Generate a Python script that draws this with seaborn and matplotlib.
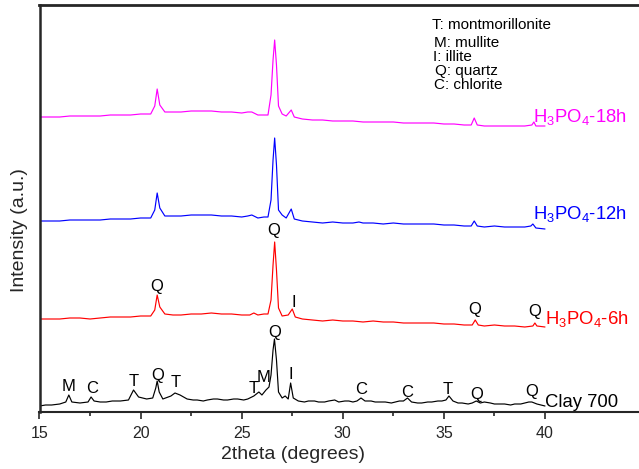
import matplotlib
matplotlib.use("Agg")
import matplotlib.pyplot as plt
import seaborn as sns
import pandas as pd
from matplotlib.ticker import FixedLocator

# ---------------- data ----------------
clay_x = [15.0, 15.3, 15.6, 16.0, 16.3, 16.45, 16.6, 17.0, 17.4, 17.55, 17.7, 18.0, 18.3, 18.6,
          19.0, 19.4, 19.65, 19.9, 20.3, 20.6, 20.75, 20.82, 20.92, 21.1, 21.5, 21.7, 21.95,
          22.3, 22.6, 22.8, 23.1, 23.3, 23.6, 23.8, 24.1, 24.3, 24.6, 24.8, 25.1, 25.3, 25.6,
          25.85, 26.0, 26.2, 26.35, 26.45, 26.55, 26.62, 26.72, 26.82, 27.0, 27.15, 27.3,
          27.42, 27.55, 27.8, 28.1, 28.3, 28.6, 28.8, 29.1, 29.3, 29.6, 29.8, 30.1, 30.3, 30.5,
          30.7, 30.9, 31.1, 31.4, 31.6, 31.9, 32.1, 32.4, 32.6, 32.8, 33.0, 33.2, 33.4, 33.7,
          33.9, 34.2, 34.4, 34.7, 34.9, 35.1, 35.25, 35.45, 35.7, 35.9, 36.2, 36.4, 36.6,
          36.8, 37.0, 37.3, 37.5, 37.8, 38.0, 38.3, 38.5, 38.8, 39.0, 39.2, 39.35, 39.6, 40.0]
clay_y = [6, 7, 7, 8, 10, 17, 10, 9, 10, 15, 11, 10, 10, 11,
          11, 12, 22, 15, 13, 14, 24, 31, 20, 13, 16, 19, 17,
          13, 12, 12, 11, 12, 13, 13, 12, 12, 13, 13, 12, 13, 16,
          20, 17, 22, 25, 37, 62, 73, 52, 20, 14, 16, 13,
          29, 14, 11, 10, 11, 11, 10, 10, 11, 12, 10, 11, 11, 10,
          11, 14, 11, 11, 10, 10, 10, 9, 10, 11, 11, 14, 10, 9,
          9, 10, 10, 11, 11, 12, 16, 11, 9, 9, 8, 9, 11,
          9, 10, 9, 8, 8, 8, 7, 8, 8, 9, 10, 10, 8, 6]

h6_x = [15.0, 15.5, 16.0, 16.5, 17.0, 17.5, 18.0, 18.5, 19.0, 19.5, 20.0, 20.5, 20.7, 20.82,
        20.95, 21.2, 21.6, 22.0, 22.5, 23.0, 23.5, 24.0, 24.5, 25.0, 25.4, 25.6, 25.8, 26.1,
        26.3, 26.45, 26.55, 26.63, 26.72, 26.82, 27.0, 27.3, 27.5, 27.65, 28.0, 28.5, 29.0,
        29.5, 30.0, 30.5, 31.0, 31.5, 32.0, 32.5, 33.0, 33.5, 34.0, 34.5, 35.0, 35.5, 36.0,
        36.4, 36.55, 36.7, 37.0, 37.5, 38.0, 38.5, 39.0, 39.4, 39.5, 39.6, 40.0]
h6_y = [93, 93, 93, 94, 94, 93, 94, 95, 95, 95, 96, 96, 102, 117,
        105, 98, 97, 97, 98, 98, 99, 98, 98, 97, 97, 99, 97, 98,
        98, 112, 147, 170, 142, 104, 96, 97, 103, 95, 93, 92, 91,
        92, 91, 91, 90, 91, 90, 90, 89, 89, 89, 89, 88, 88, 87,
        87, 92, 87, 86, 87, 86, 86, 85, 86, 89, 86, 85]

h12_x = [15.0, 15.5, 16.0, 16.5, 17.0, 17.5, 18.0, 18.5, 19.0, 19.5, 20.0, 20.5, 20.7, 20.82,
         20.95, 21.2, 21.6, 22.0, 22.5, 23.0, 23.5, 24.0, 24.5, 25.0, 25.3, 25.5, 25.8, 26.1,
         26.3, 26.45, 26.55, 26.63, 26.72, 26.82, 27.0, 27.2, 27.45, 27.6, 28.0, 28.5, 29.0,
         29.5, 30.0, 30.5, 30.8, 31.0, 31.5, 32.0, 32.5, 33.0, 33.5, 34.0, 34.5, 35.0, 35.5,
         36.0, 36.35, 36.5, 36.65, 37.0, 37.5, 38.0, 38.5, 39.0, 39.3, 39.4, 39.55, 40.0]
h12_y = [191, 191, 191, 192, 192, 192, 192, 193, 193, 193, 194, 194, 202, 219,
         204, 196, 196, 196, 197, 197, 197, 196, 196, 195, 196, 197, 194, 195,
         195, 212, 252, 274, 247, 202, 197, 194, 203, 193, 191, 190, 189,
         190, 189, 189, 190, 189, 189, 188, 189, 188, 188, 188, 188, 187, 187,
         186, 186, 191, 186, 185, 186, 185, 185, 185, 186, 188, 184, 183]

h18_x = [15.0, 15.5, 16.0, 16.5, 17.0, 17.5, 18.0, 18.5, 19.0, 19.5, 20.0, 20.5, 20.7, 20.82,
         20.95, 21.2, 21.6, 22.0, 22.5, 23.0, 23.5, 24.0, 24.5, 25.0, 25.3, 25.5, 25.8, 26.1,
         26.3, 26.45, 26.55, 26.63, 26.72, 26.82, 27.0, 27.2, 27.45, 27.6, 28.0, 28.5, 29.0,
         29.5, 30.0, 30.5, 31.0, 31.5, 32.0, 32.5, 33.0, 33.5, 34.0, 34.5, 35.0, 35.5, 36.0,
         36.35, 36.5, 36.65, 37.0, 37.5, 38.0, 38.5, 39.0, 39.35, 39.45, 39.55, 40.0]
h18_y = [295, 295, 295, 296, 296, 296, 296, 297, 297, 297, 298, 298, 306, 323,
         307, 300, 300, 300, 301, 301, 301, 300, 300, 299, 300, 300, 297, 297,
         297, 317, 352, 372, 347, 306, 298, 296, 302, 295, 293, 292, 292,
         291, 291, 291, 290, 290, 290, 290, 289, 289, 289, 289, 288, 288, 287,
         287, 294, 287, 286, 286, 286, 286, 286, 287, 290, 286, 286]

series_names = ["Clay 700", "H3PO4-6h", "H3PO4-12h", "H3PO4-18h"]
series_labels = ["Clay 700", r"H$_3$PO$_4$-6h", r"H$_3$PO$_4$-12h", r"H$_3$PO$_4$-18h"]
series_colors = ["#000000", "#FF0000", "#0000FF", "#FF00FF"]
series_label_x = [40.0, 40.0, 39.42, 39.42]
series_label_y = [5, 88, 193, 290]

peak_text = ["M", "C", "T", "Q", "T", "T", "M", "Q", "I", "C", "C", "T", "Q", "Q",
             "Q", "Q", "I", "Q", "Q"]
peak_x = [16.43, 17.6, 19.67, 20.86, 21.72, 25.6, 26.1, 26.64, 27.45, 30.9, 33.2, 35.2, 36.63, 39.35,
          20.82, 26.6, 27.6, 36.53, 39.5]
peak_y = [21, 19, 26, 32, 25, 19, 30, 75, 33, 18, 15, 18, 13, 16,
          121, 177, 105, 98, 96]

key_lines = ["T: montmorillonite", "M: mullite", "I: illite", "Q: quartz", "C: chlorite"]
key_x = [34.41, 34.51, 34.46, 34.56, 34.51]
key_y = [387, 369, 355, 341, 327]

xticks_major = [15, 20, 25, 30, 35, 40]
xticks_minor = [17.5, 22.5, 27.5, 32.5, 37.5]

# ---------------- build long table ----------------
frames = []
for name, xs, ys in zip(series_names, [clay_x, h6_x, h12_x, h18_x], [clay_y, h6_y, h12_y, h18_y]):
    frames.append(pd.DataFrame({"two_theta": xs, "intensity": ys, "sample": name}))
df = pd.concat(frames, ignore_index=True)

# ---------------- styling ----------------
sns.set_style("ticks")
plt.rcParams["font.family"] = ["Liberation Sans", "DejaVu Sans"]
plt.rcParams["mathtext.fontset"] = "custom"
plt.rcParams["mathtext.rm"] = "Liberation Sans"
plt.rcParams["mathtext.it"] = "Liberation Sans:italic"
plt.rcParams["mathtext.bf"] = "Liberation Sans:bold"

fig = plt.figure(figsize=(6.39, 4.69), dpi=100)
ax = fig.add_axes([39.5 / 639, 1 - 412 / 469, 1 - 39.5 / 639, 407 / 469])

sns.lineplot(data=df, x="two_theta", y="intensity", hue="sample",
             palette=dict(zip(series_names, series_colors)),
             estimator=None, sort=False, legend=False, linewidth=0.85, ax=ax)

ax.set_xlim(15, 15 + 599.5 / 20.22)
ax.set_ylim(0, 407)

ax.xaxis.set_major_locator(FixedLocator(xticks_major))
ax.xaxis.set_minor_locator(FixedLocator(xticks_minor))
ax.set_xticklabels([str(t) for t in xticks_major], fontsize=11.5)
ax.tick_params(axis="x", which="major", direction="out", length=5, width=1.2, pad=5)
ax.tick_params(axis="x", which="minor", direction="out", length=3, width=1.2)
ax.set_yticks([])

ax.spines["right"].set_visible(False)
ax.spines["top"].set_linewidth(2.0)
ax.spines["left"].set_linewidth(1.8)
ax.spines["bottom"].set_linewidth(1.5)

ax.set_xlabel("2theta (degrees)", fontsize=14)
ax.xaxis.set_label_coords(0.423, -0.083)
ax.set_ylabel("Intensity (a.u.)", fontsize=14)
ax.yaxis.set_label_coords(-0.019, 0.447)

for t, x, y in zip(peak_text, peak_x, peak_y):
    ax.text(x, y, t, ha="center", va="baseline", fontsize=12, color="black")

for lab, x, y, c in zip(series_labels, series_label_x, series_label_y, series_colors):
    ax.text(x, y, lab, ha="left", va="baseline", fontsize=13.3, color=c)

for t, x, y in zip(key_lines, key_x, key_y):
    ax.text(x, y, t, ha="left", va="center", fontsize=11, color="black")

fig.savefig("out.png", dpi=100)
